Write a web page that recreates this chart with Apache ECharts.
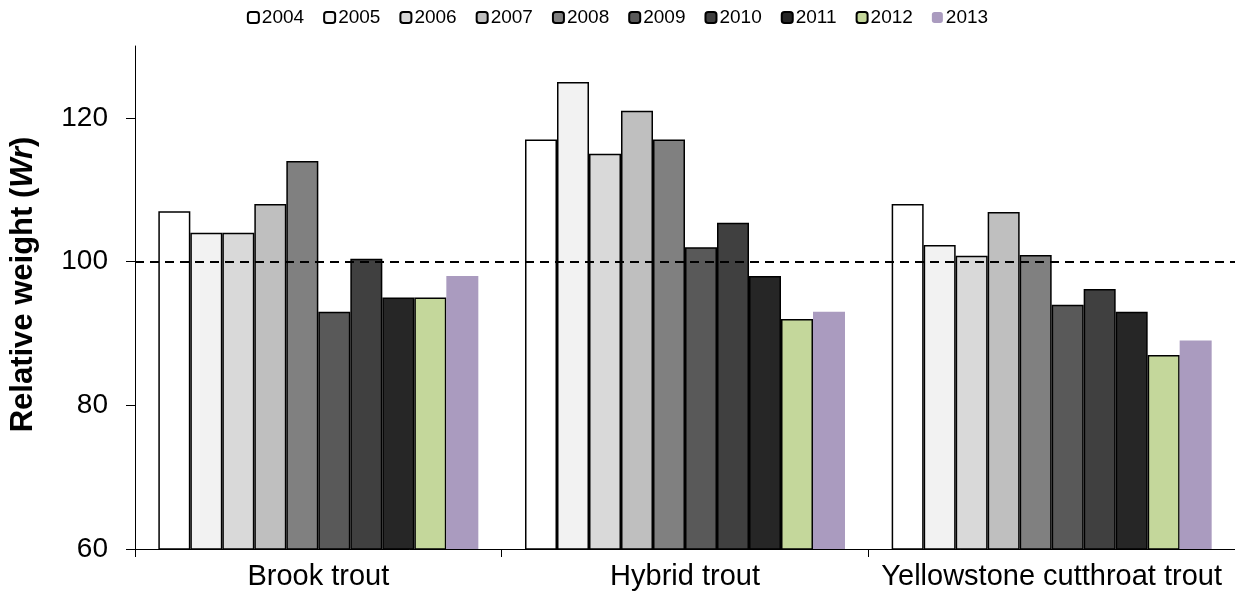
<!DOCTYPE html>
<html>
<head>
<meta charset="utf-8">
<script src="https://cdn.jsdelivr.net/npm/echarts@6/dist/echarts.min.js"></script>
<style>
  html, body { margin: 0; padding: 0; background: #fff; }
  #chart { width: 1235px; height: 600px; }
</style>
</head>
<body>
<div id="chart"></div>
<script>
const categories = ['Brook trout', 'Hybrid trout', 'Yellowstone cutthroat trout']
const years = ['2004', '2005', '2006', '2007', '2008', '2009', '2010', '2011', '2012', '2013']
// relative weight per year, one array per species
const brookTrout = [107, 104, 104, 108, 114, 93, 100.4, 95, 95, 98]
const hybridTrout = [117, 125, 115, 121, 117, 102, 105.4, 98, 92, 93]
const yellowstoneTrout = [108, 102.3, 100.8, 106.9, 100.9, 94, 96.2, 93, 87, 89]
const yTicks = [60, 80, 100, 120]
const referenceWr = 100

const colors = ['#ffffff', '#f2f2f2', '#d9d9d9', '#bfbfbf', '#808080', '#595959', '#404040', '#262626', '#c4d79b', '#aa9bbf']
const font = '"Liberation Sans", Arial, sans-serif'

const chart = echarts.init(document.getElementById('chart'))

const series = years.map((year, i) => {
  const s = {
    name: year,
    type: 'bar',
    barWidth: 32,
    barGap: '0%',
    data: [brookTrout[i], hybridTrout[i], yellowstoneTrout[i]],
    itemStyle: {
      color: colors[i],
      borderColor: i === 9 ? colors[i] : '#000',
      borderWidth: i === 9 ? 0 : 1.5
    },
    emphasis: { disabled: true }
  }
  if (i === 0) {
    s.markLine = {
      silent: true,
      symbol: 'none',
      label: { show: false },
      lineStyle: { color: '#000', width: 2, type: [9, 6] },
      data: [{ yAxis: referenceWr }]
    }
  }
  return s
})

chart.setOption({
  animation: false,
  textStyle: { fontFamily: font, color: '#000' },
  legend: {
    top: 3,
    left: 'center',
    itemWidth: 11,
    itemHeight: 11,
    itemGap: 19,
    textStyle: { fontSize: 19, color: '#000', fontFamily: font, padding: [0, 0, 0, -2] },
    data: years
  },
  grid: {
    left: 135,
    right: 0,
    top: 46,
    bottom: 51,
    containLabel: false,
    outerBoundsMode: 'none'
  },
  xAxis: {
    type: 'category',
    data: categories,
    axisLine: { lineStyle: { color: '#000', width: 1 } },
    axisTick: { show: true, length: 8, lineStyle: { color: '#000' } },
    axisLabel: { interval: 0, fontSize: 29, color: '#000', fontFamily: font, margin: 13 }
  },
  yAxis: {
    type: 'value',
    min: 60,
    max: 130,
    interval: 10,
    name: '{b|Relative weight (}{i|Wr}{b|)}',
    nameLocation: 'middle',
    nameGap: 96,
    nameTextStyle: {
      padding: [0, 0, 0, 26],
      rich: {
        b: { fontSize: 31, fontWeight: 'bold', color: '#000', fontFamily: font },
        i: { fontSize: 31, fontWeight: 'bold', fontStyle: 'italic', color: '#000', fontFamily: font }
      }
    },
    axisLine: { show: true, lineStyle: { color: '#000', width: 1 } },
    axisTick: { show: true, length: 9, customValues: yTicks, lineStyle: { color: '#000' } },
    axisLabel: { fontSize: 28, color: '#000', fontFamily: font, margin: 27, customValues: yTicks },
    splitLine: { show: false }
  },
  series: series
})
</script>
</body>
</html>
